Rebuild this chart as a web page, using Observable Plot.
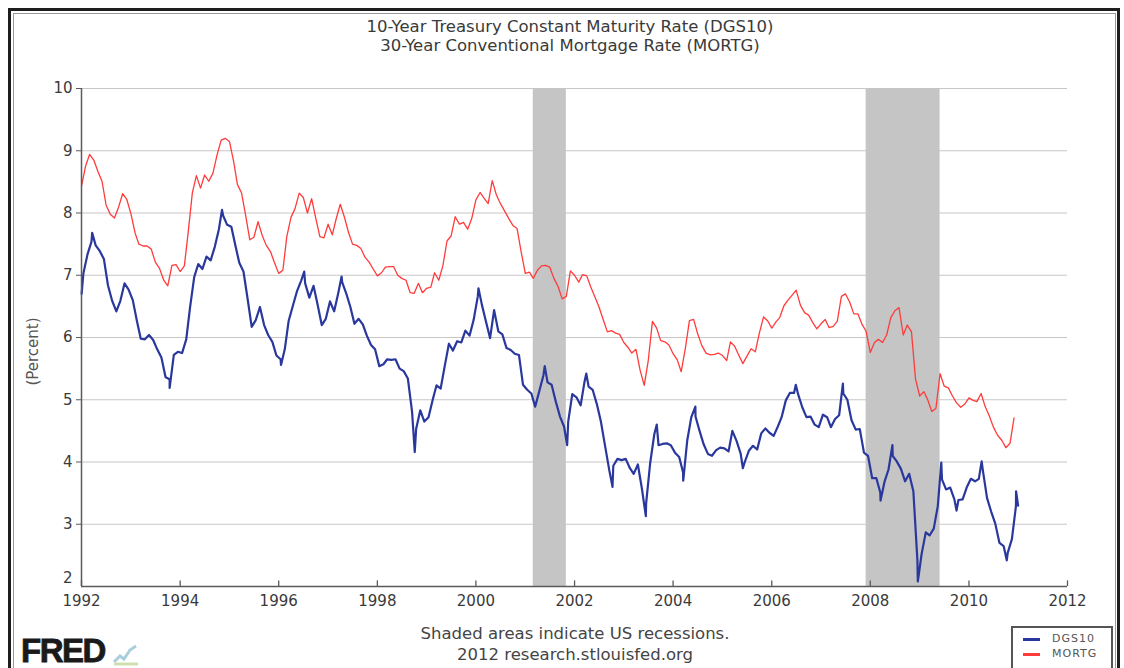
<!DOCTYPE html>
<html>
<head>
<meta charset="utf-8">
<script src="https://cdn.jsdelivr.net/npm/d3@7"></script>
<script src="https://cdn.jsdelivr.net/npm/@observablehq/plot@0.6"></script>
<style>
  html, body { margin: 0; padding: 0; background: #fff; }
  #page { position: relative; width: 1124px; height: 668px; overflow: hidden; background: #fff; font-family: "DejaVu Sans", sans-serif; }
  .frame-outer { position: absolute; left: 8px; top: 8px; width: 1106px; height: 700px; border: 3px solid #1e1e1e; }
  .frame-inner { position: absolute; left: 13px; top: 13px; width: 1101px; height: 700px; border: 1px solid #9a9a9a; }
  #title { position: absolute; top: 17px; left: 220px; width: 700px; text-align: center; font-size: 16.5px; line-height: 19px; color: #3a3a3a; }
  #chart { position: absolute; top: 60px; left: 0; }
  #caption { position: absolute; top: 623px; left: 325px; width: 500px; text-align: center; font-size: 16.5px; line-height: 21px; color: #444; }
  #fred { position: absolute; left: 21px; top: 636px; height: 30px; line-height: 30px; font-family: "Liberation Sans", "DejaVu Sans", sans-serif; font-weight: 900; font-size: 33px; letter-spacing: -1.5px; color: #1a1a1a; -webkit-text-stroke: 0.8px #1a1a1a; }
  #fredIcon { position: absolute; left: 112px; top: 640px; }
  #legend { position: absolute; left: 1011px; top: 626px; width: 98px; height: 50px; border: 2px solid #555; background: #fff; }
  .lg-row { position: absolute; left: 10px; height: 14px; font-size: 11px; letter-spacing: 1px; color: #555; }
  .lg-row span.sw { display: inline-block; width: 17px; height: 3px; vertical-align: middle; margin-right: 12px; }
</style>
</head>
<body>
<div id="page">
  <div class="frame-outer"></div>
  <div class="frame-inner"></div>
  <div id="title">10-Year Treasury Constant Maturity Rate (DGS10)<br>30-Year Conventional Mortgage Rate (MORTG)</div>
  <div id="chart"></div>
  <div id="caption">Shaded areas indicate US recessions.<br>2012 research.stlouisfed.org</div>
  <div id="fred">FRED</div>
  <svg id="fredIcon" width="28" height="26" viewBox="0 0 28 26">
    <path d="M2,22 L8,16 L12,19 L18,10 L24,6" fill="none" stroke="#a9cfdc" stroke-width="3"/>
    <path d="M2,24 L26,24" stroke="#cfe0b0" stroke-width="3"/>
  </svg>
  <div id="legend">
    <div class="lg-row" style="top:4px"><span class="sw" id="swBlue"></span><span id="lgA"></span></div>
    <div class="lg-row" style="top:19px"><span class="sw" id="swRed"></span><span id="lgB"></span></div>
  </div>
</div>
<script>
// ---------- data ----------
const seriesNames = ["DGS10", "MORTG"];
const seriesColors = ["#2a389e", "#ff3b3b"];
const startYear = 1992;

// 30-Year Conventional Mortgage Rate, monthly, Jan 1992 - Dec 2010
const mortgValues = [
  8.43, 8.76, 8.94, 8.85, 8.67, 8.51, 8.13, 7.98, 7.92, 8.09, 8.31, 8.22, // 1992
  7.99, 7.68, 7.50, 7.47, 7.47, 7.42, 7.21, 7.11, 6.92, 6.83, 7.16, 7.17, // 1993
  7.06, 7.15, 7.68, 8.32, 8.60, 8.40, 8.61, 8.51, 8.64, 8.93, 9.17, 9.20, // 1994
  9.15, 8.83, 8.46, 8.32, 7.96, 7.57, 7.61, 7.86, 7.64, 7.48, 7.38, 7.20, // 1995
  7.03, 7.08, 7.62, 7.93, 8.07, 8.32, 8.25, 8.00, 8.23, 7.92, 7.62, 7.60, // 1996
  7.82, 7.65, 7.90, 8.14, 7.94, 7.69, 7.50, 7.48, 7.43, 7.29, 7.21, 7.10, // 1997
  6.99, 7.04, 7.13, 7.14, 7.14, 7.00, 6.95, 6.92, 6.72, 6.71, 6.87, 6.72, // 1998
  6.79, 6.81, 7.04, 6.92, 7.15, 7.55, 7.63, 7.94, 7.82, 7.85, 7.74, 7.91, // 1999
  8.21, 8.33, 8.24, 8.15, 8.52, 8.29, 8.15, 8.03, 7.91, 7.80, 7.75, 7.38, // 2000
  7.03, 7.05, 6.95, 7.08, 7.15, 7.16, 7.13, 6.95, 6.82, 6.62, 6.66, 7.07, // 2001
  7.00, 6.89, 7.01, 6.99, 6.81, 6.65, 6.49, 6.29, 6.09, 6.11, 6.07, 6.05, // 2002
  5.92, 5.84, 5.75, 5.81, 5.48, 5.23, 5.63, 6.26, 6.15, 5.95, 5.93, 5.88, // 2003
  5.74, 5.64, 5.45, 5.83, 6.27, 6.29, 6.06, 5.87, 5.75, 5.72, 5.73, 5.75, // 2004
  5.71, 5.63, 5.93, 5.86, 5.72, 5.58, 5.70, 5.82, 5.77, 6.07, 6.33, 6.27, // 2005
  6.15, 6.25, 6.32, 6.51, 6.60, 6.68, 6.76, 6.52, 6.40, 6.36, 6.24, 6.14, // 2006
  6.22, 6.29, 6.16, 6.18, 6.26, 6.66, 6.70, 6.57, 6.38, 6.38, 6.21, 6.10, // 2007
  5.76, 5.92, 5.97, 5.92, 6.04, 6.32, 6.43, 6.48, 6.04, 6.20, 6.09, 5.33, // 2008
  5.06, 5.13, 5.00, 4.81, 4.86, 5.42, 5.22, 5.19, 5.06, 4.95, 4.88, 4.93, // 2009
  5.03, 4.99, 4.97, 5.10, 4.89, 4.74, 4.56, 4.43, 4.35, 4.23, 4.30, 4.71  // 2010
];

// 10-Year Treasury Constant Maturity Rate, monthly levels
const dgs10Monthly = [
  7.03, 7.34, 7.54, 7.48, 7.39, 7.26, 6.84, 6.59, 6.42, 6.59, 6.87, 6.77, // 1992
  6.60, 6.26, 5.98, 5.97, 6.04, 5.96, 5.81, 5.68, 5.36, 5.33, 5.72, 5.77, // 1993
  5.75, 5.97, 6.48, 6.97, 7.18, 7.10, 7.30, 7.24, 7.46, 7.74, 7.96, 7.81, // 1994
  7.78, 7.47, 7.20, 7.06, 6.63, 6.17, 6.28, 6.49, 6.20, 6.04, 5.93, 5.71, // 1995
  5.65, 5.81, 6.27, 6.51, 6.74, 6.91, 6.87, 6.64, 6.83, 6.53, 6.20, 6.30, // 1996
  6.58, 6.42, 6.69, 6.89, 6.71, 6.49, 6.22, 6.30, 6.21, 6.03, 5.88, 5.81, // 1997
  5.54, 5.57, 5.65, 5.64, 5.65, 5.50, 5.46, 5.34, 4.81, 4.53, 4.83, 4.65, // 1998
  4.72, 5.00, 5.23, 5.18, 5.54, 5.90, 5.79, 5.94, 5.92, 6.11, 6.03, 6.28, // 1999
  6.66, 6.52, 6.26, 5.99, 6.44, 6.10, 6.05, 5.83, 5.80, 5.74, 5.72, 5.24, // 2000
  5.16, 5.10, 4.89, 5.14, 5.39, 5.28, 5.24, 4.97, 4.73, 4.57, 4.65, 5.09, // 2001
  5.04, 4.91, 5.28, 5.21, 5.16, 4.93, 4.65, 4.26, 3.87, 3.94, 4.05, 4.03, // 2002
  4.05, 3.90, 3.81, 3.96, 3.57, 3.33, 3.98, 4.45, 4.27, 4.29, 4.30, 4.27, // 2003
  4.15, 4.08, 3.83, 4.35, 4.72, 4.73, 4.50, 4.28, 4.13, 4.10, 4.19, 4.23, // 2004
  4.22, 4.17, 4.50, 4.34, 4.14, 4.00, 4.18, 4.26, 4.20, 4.46, 4.54, 4.47, // 2005
  4.42, 4.57, 4.72, 4.99, 5.11, 5.11, 5.09, 4.88, 4.72, 4.73, 4.60, 4.56, // 2006
  4.76, 4.72, 4.56, 4.69, 4.75, 5.10, 5.00, 4.67, 4.52, 4.53, 4.15, 4.10, // 2007
  3.74, 3.74, 3.51, 3.68, 3.88, 4.10, 4.01, 3.89, 3.69, 3.81, 3.53, 2.42, // 2008
  2.52, 2.87, 2.82, 2.93, 3.29, 3.72, 3.56, 3.59, 3.40, 3.39, 3.40, 3.59, // 2009
  3.73, 3.69, 3.73, 3.85, 3.42, 3.20, 3.01, 2.70, 2.65, 2.54, 2.76, 3.29  // 2010
];

// Daily highs / lows visible in the chart (DGS10)
const dgs10ExtremeDates = [
  "1992-01-02", "1992-03-20", "1993-10-15", "1994-11-07", "1996-01-18", "1996-07-08",
  "1997-04-11", "1998-10-05", "2000-01-20", "2001-05-25", "2001-11-07", "2002-03-29",
  "2002-10-09", "2003-06-13", "2003-09-02", "2004-03-16", "2004-06-14", "2005-06-01",
  "2006-06-28", "2007-06-12", "2008-03-17", "2008-06-13", "2008-12-18", "2009-06-10",
  "2009-10-01", "2010-04-05", "2010-10-08", "2010-12-16", "2010-12-31"
];
const dgs10ExtremeValues = [
  6.70, 7.68, 5.19, 8.05, 5.56, 7.06,
  6.98, 4.16, 6.79, 5.54, 4.27, 5.42,
  3.60, 3.13, 4.60, 3.70, 4.89, 3.90,
  5.24, 5.26, 3.38, 4.27, 2.08, 3.99,
  3.22, 4.01, 2.42, 3.53, 3.30
];

const recessionStarts = ["2001-03-01", "2007-12-01"];
const recessionEnds = ["2001-11-01", "2009-06-01"];

const xTickYears = [1992, 1994, 1996, 1998, 2000, 2002, 2004, 2006, 2008, 2010, 2012];
const yTickValues = [3, 4, 5, 6, 7, 8, 9, 10];
const yBottomTick = [2];
const yGridValues = [3, 4, 5, 6, 7, 8, 9, 10];
const yAxisTitle = ["(Percent)"];

// ---------- build tables ----------
const monthDate = (i, day) => new Date(Date.UTC(startYear + Math.floor(i / 12), i % 12, day));
const mortgData = mortgValues.map((v, i) => ({date: monthDate(i, 1), value: v}));
const dgsData = dgs10Monthly.map((v, i) => ({date: monthDate(i, 15), value: v}))
  .concat(dgs10ExtremeDates.map((d, i) => ({date: new Date(d + "T00:00:00Z"), value: dgs10ExtremeValues[i]})))
  .sort((a, b) => a.date - b.date);
const recessions = recessionStarts.map((s, i) => ({start: new Date(s + "T00:00:00Z"), end: new Date(recessionEnds[i] + "T00:00:00Z")}));
const xTicks = xTickYears.map(y => new Date(Date.UTC(y, 0, 1)));
const xDomain = [xTicks[0], xTicks[xTicks.length - 1]];

const chart = Plot.plot({
  width: 1124,
  height: 560,
  marginTop: 28,
  marginBottom: 34,
  marginLeft: 81,
  marginRight: 57,
  style: {fontFamily: "DejaVu Sans, sans-serif", fontSize: "15px", color: "#3a3a3a", background: "transparent"},
  x: {type: "utc", domain: xDomain},
  y: {domain: [2, 10]},
  marks: [
    Plot.ruleY(yGridValues, {stroke: "#c9c6c6", strokeWidth: 1.2}),
    Plot.rect(recessions, {x1: "start", x2: "end", y1: 2, y2: 10, fill: "#c5c5c5"}),
    Plot.line(mortgData, {x: "date", y: "value", stroke: seriesColors[1], strokeWidth: 1.3}),
    Plot.line(dgsData, {x: "date", y: "value", stroke: seriesColors[0], strokeWidth: 2.2}),
    Plot.ruleX([xDomain[0]], {stroke: "#5a5a5a", strokeWidth: 1.5}),
    Plot.ruleY([2], {stroke: "#5a5a5a", strokeWidth: 1.5}),
    Plot.ruleX(xTicks, {y1: 2, y2: 2.09, stroke: "#5a5a5a", strokeWidth: 1.3}),
    Plot.axisX({ticks: xTicks, tickFormat: d3.utcFormat("%Y"), tickSize: 0, tickPadding: 9, label: null}),
    Plot.axisY({ticks: yTickValues, tickSize: 5, tickPadding: 4, stroke: "#5a5a5a", label: null}),
    Plot.text(yBottomTick, {x: xDomain[0], y: d => d, text: d => String(d), textAnchor: "end", dx: -9, dy: -8, fontSize: 15, fill: "#3a3a3a"}),
    Plot.text(yAxisTitle, {frameAnchor: "left", textAnchor: "middle", rotate: -90, dx: -48, dy: 14, fontSize: 15, fill: "#555"})
  ]
});
document.getElementById("chart").appendChild(chart);

document.getElementById("swBlue").style.background = seriesColors[0];
document.getElementById("swRed").style.background = seriesColors[1];
document.getElementById("lgA").textContent = seriesNames[0];
document.getElementById("lgB").textContent = seriesNames[1];
</script>
</body>
</html>
